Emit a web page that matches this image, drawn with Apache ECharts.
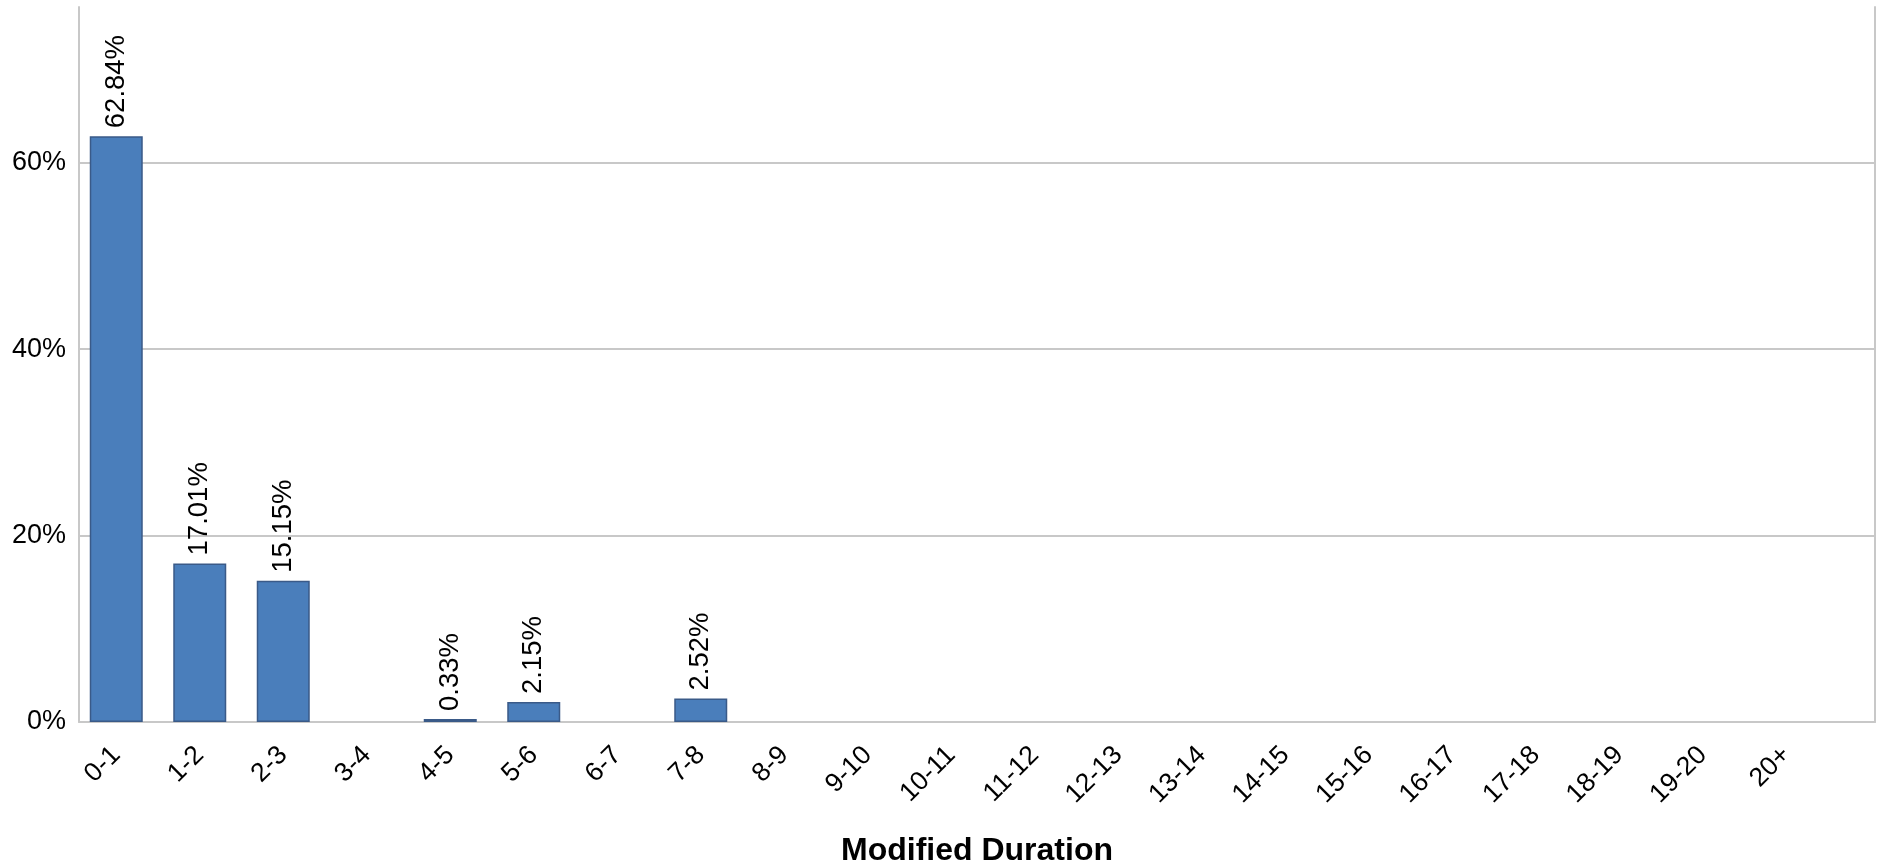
<!DOCTYPE html>
<html>
<head>
<meta charset="utf-8">
<title>Modified Duration</title>
<script src="https://cdn.jsdelivr.net/npm/echarts@6/dist/echarts.min.js"></script>
<style>
  html, body { margin: 0; padding: 0; background: #ffffff; }
  #chart { width: 1881px; height: 865px; }
</style>
</head>
<body>
<div id="chart"></div>
<script>
// Duration buckets (years) and portfolio weight in each, in percent
const categories = ['0-1', '1-2', '2-3', '3-4', '4-5', '5-6', '6-7', '7-8', '8-9', '9-10',
  '10-11', '11-12', '12-13', '13-14', '14-15', '15-16', '16-17', '17-18', '18-19', '19-20', '20+'];
const weights = [62.84, 17.01, 15.15, 0, 0.33, 2.15, 0, 2.52, 0, 0,
  0, 0, 0, 0, 0, 0, 0, 0, 0, 0, 0];
const yTicks = [0, 20, 40, 60];

const FONT = '"Liberation Sans", Arial, sans-serif';
const Y_MAX = 76.7;
const GRID_LINE = '#c8c8c8';

const chart = echarts.init(document.getElementById('chart'), null, { renderer: 'canvas' });

chart.setOption({
  backgroundColor: '#ffffff',
  animation: false,
  grid: [
    // frame, gridlines and value labels
    { left: 79, right: 6, top: 7, bottom: 143, containLabel: false, outerBoundsMode: 'none' },
    // bar placement band
    { left: 74.5, right: 53, top: 7, bottom: 143, containLabel: false, outerBoundsMode: 'none' }
  ],
  xAxis: [
    {
      gridIndex: 0,
      type: 'category',
      data: categories,
      axisLine: { show: true, lineStyle: { color: GRID_LINE, width: 2 } },
      axisTick: { show: false },
      axisLabel: { show: false },
      name: 'Modified Duration',
      nameLocation: 'middle',
      nameGap: 113,
      nameTextStyle: { fontFamily: FONT, fontSize: 32, fontWeight: 'bold', color: '#000000' }
    },
    {
      gridIndex: 1,
      type: 'category',
      data: categories,
      axisLine: { show: false },
      axisTick: { show: false },
      axisLabel: {
        rotate: 45,
        margin: 29,
        interval: 0,
        fontFamily: FONT,
        fontSize: 26.5,
        color: '#000000'
      }
    }
  ],
  yAxis: [
    {
      gridIndex: 0,
      type: 'value',
      min: 0,
      max: Y_MAX,
      interval: 20,
      axisLine: { show: true, lineStyle: { color: GRID_LINE, width: 2 } },
      axisTick: { show: false },
      axisLabel: {
        margin: 13,
        fontFamily: FONT,
        fontSize: 27,
        color: '#000000',
        showMaxLabel: false,
        formatter: v => yTicks.includes(v) ? v + '%' : ''
      },
      splitLine: { show: true, showMaxLine: false, lineStyle: { color: GRID_LINE, width: 2 } }
    },
    {
      gridIndex: 0,
      type: 'value',
      position: 'right',
      min: 0,
      max: Y_MAX,
      interval: 20,
      axisLine: { show: true, lineStyle: { color: GRID_LINE, width: 2 } },
      axisTick: { show: false },
      axisLabel: { show: false },
      splitLine: { show: false }
    },
    {
      gridIndex: 1,
      type: 'value',
      min: 0,
      max: Y_MAX,
      show: false
    }
  ],
  series: [
    {
      type: 'bar',
      xAxisIndex: 1,
      yAxisIndex: 2,
      data: weights.map(v => (v === 0 ? '-' : v)),
      barWidth: 53,
      itemStyle: { color: '#4a7ebb', borderColor: '#3a5a88', borderWidth: 1.5 },
      label: {
        show: true,
        position: 'top',
        rotate: 90,
        align: 'left',
        verticalAlign: 'middle',
        distance: 8,
        fontFamily: FONT,
        fontSize: 27.5,
        color: '#000000',
        formatter: p => Number(p.value).toFixed(2) + '%'
      }
    }
  ]
});
</script>
</body>
</html>
